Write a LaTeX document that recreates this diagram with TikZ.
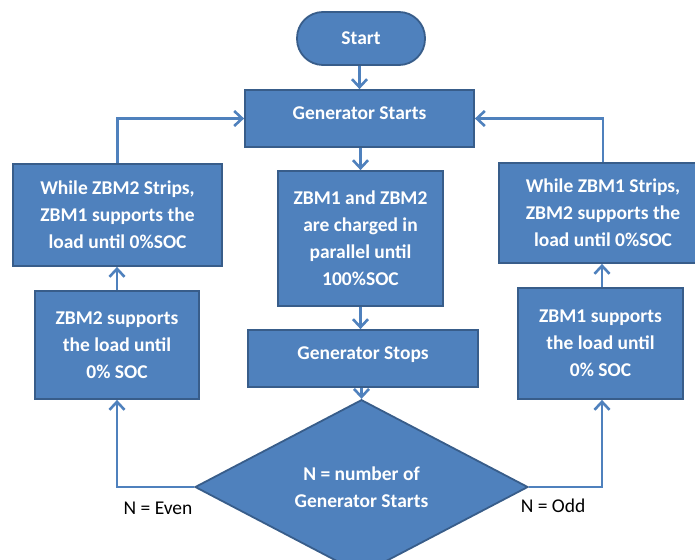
\documentclass[tikz,border=0pt]{standalone}
\usepackage{fontspec}
\setmainfont{Carlito}
\usetikzlibrary{shapes.geometric,arrows.meta}
\definecolor{boxfill}{HTML}{4F81BD}
\definecolor{boxline}{HTML}{385D8A}
\definecolor{arrowcol}{HTML}{4F81BD}
\tikzset{
  box/.style={rectangle, draw=boxline, line width=1.8pt, fill=boxfill, text=white,
    font=\fontsize{19.5}{27}\selectfont\bfseries, align=center, inner sep=0pt},
  term/.style={box, rounded corners=26pt},
  decision/.style={diamond, draw=boxline, line width=1.8pt, fill=boxfill, text=white,
    font=\fontsize{19.5}{27}\selectfont\bfseries, align=center, inner sep=0pt},
  conn/.style={draw=arrowcol, line width=2.6pt, -{Straight Barb[length=8pt,width=15pt]}},
  lbl/.style={font=\fontsize{19.5}{24}\selectfont, text=black, inner sep=0pt}
}
\begin{document}
\begin{tikzpicture}[x=1pt,y=-1pt]
\useasboundingbox (0,0) rectangle (695,559);
\clip (0,0) rectangle (695,559);
\fill[white] (0,0) rectangle (695,559);

\node[term, minimum width=128pt, minimum height=53pt] (start) at (361,38.5) {Start};
\node[box, minimum width=229pt, minimum height=57pt, text height=13pt, text depth=11pt] (gstart) at (359.5,118.5) {Generator Starts};
\node[box, minimum width=165pt, minimum height=135pt] (charge) at (360.5,238.5) {ZBM1 and ZBM2\\are charged in\\parallel until\\100\%SOC};
\node[box, minimum width=230pt, minimum height=57pt, text height=13pt, text depth=11pt] (gstop) at (363,358.5) {Generator Stops};
\node[decision, minimum width=333pt, minimum height=144pt] (dec) at (361.5,487) {N = number of\\Generator Starts};

\node[box, minimum width=209pt, minimum height=102pt] (lup) at (117.5,215) {While ZBM2 Strips,\\ZBM1 supports the\\load until 0\%SOC};
\node[box, minimum width=164pt, minimum height=108pt] (llow) at (117,345) {ZBM2 supports\\the load until\\0\% SOC};
\node[box, minimum width=208pt, minimum height=100pt] (rup) at (603,213) {While ZBM1 Strips,\\ZBM2 supports the\\load until 0\%SOC};
\node[box, minimum width=165pt, minimum height=111pt] (rlow) at (600.5,343.5) {ZBM1 supports\\the load until\\0\% SOC};

\node[lbl] (even) at (158,508) {N = Even};
\node[lbl] (odd) at (553,506) {N = Odd};

\draw[conn] (start.south -| gstart.north) -- (gstart.north);
\draw[conn] (gstart.south -| charge.north) -- (charge.north);
\draw[conn] (charge.south) -- (charge.south |- gstop.north);
\draw[conn] (gstop.south -| dec.north) -- (dec.north);

\draw[conn] (dec.west) -| (llow.south);
\draw[conn] (llow.north) -- (llow.north |- lup.south);
\draw[conn] (lup.north) |- (gstart.west);

\draw[conn] (dec.east) -| (rlow.south -| 602,0);
\draw[conn] (rlow.north -| 602,0) -- (rup.south -| 602,0);
\draw[conn] (rup.north -| 603,0) |- (gstart.east);
\end{tikzpicture}
\end{document}
